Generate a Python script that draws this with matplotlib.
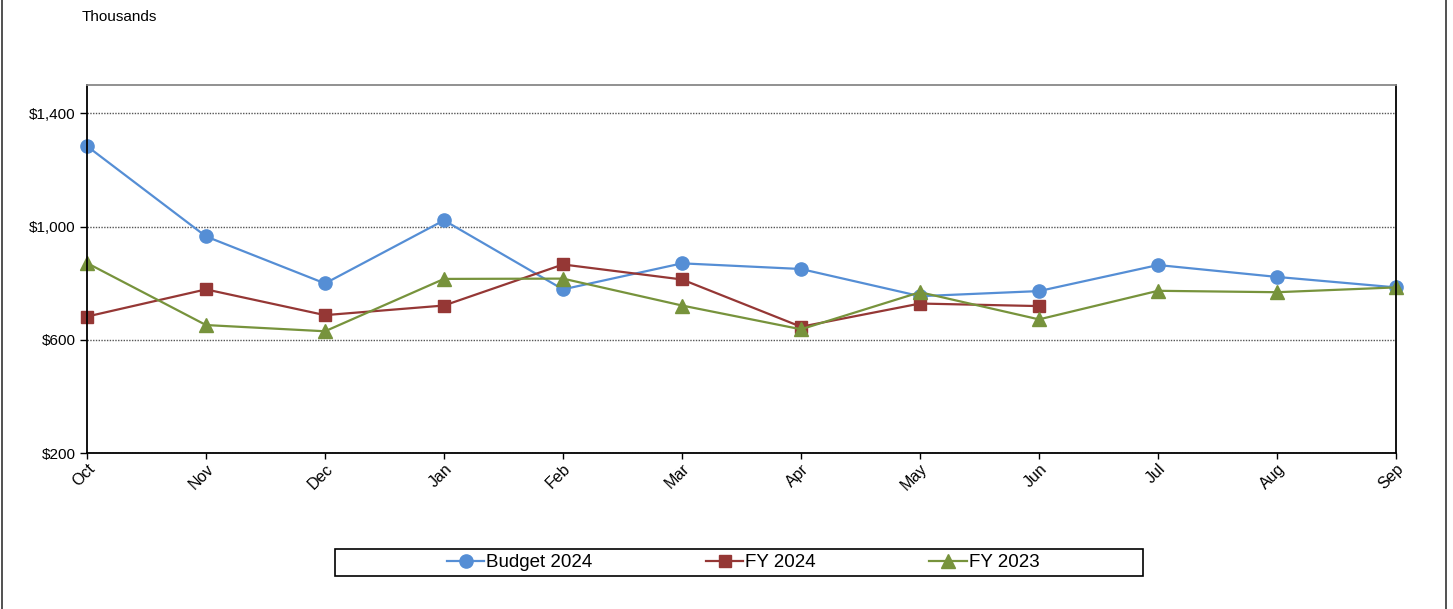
import matplotlib
matplotlib.use("Agg")
import matplotlib.pyplot as plt
from matplotlib.lines import Line2D
from matplotlib.patches import Rectangle
from matplotlib.ticker import FuncFormatter

plt.rcParams['font.family'] = ['Liberation Sans', 'DejaVu Sans']

months = ['Oct', 'Nov', 'Dec', 'Jan', 'Feb', 'Mar', 'Apr', 'May', 'Jun', 'Jul', 'Aug', 'Sep']
budget_2024 = [1284, 965, 799, 1022, 778, 870, 850, 754, 772, 864, 822, 785]
fy_2024 = [682, 778, 687, 721, 866, 813, 646, 728, 719]
fy_2023 = [871, 652, 630, 815, 816, 721, 637, 768, 672, 773, 768, 785]

W, H = 1453, 609
fig = plt.figure(figsize=(W / 100, H / 100), dpi=100)
ax = fig.add_axes([87 / W, 1 - 453 / H, (1396 - 87) / W, (453 - 85) / H])

x = list(range(len(months)))
ax.plot(x, budget_2024, color='#558ED5', lw=1.6, marker='o', ms=9.5, label='Budget 2024')
ax.plot(x[:len(fy_2024)], fy_2024, color='#953735', lw=1.6, marker='s', ms=9, label='FY 2024')
ax.plot(x, fy_2023, color='#77933C', lw=1.6, marker='^', ms=10, label='FY 2023')

ax.set_xlim(0, len(months) - 1)
ax.set_ylim(200, 1500)
ax.set_yticks([200, 600, 1000, 1400])
ax.yaxis.set_major_formatter(FuncFormatter(lambda v, p: '${:,.0f}'.format(v)))
ax.set_xticks(x)
ax.set_xticklabels(months, rotation=45, ha='right', va='top', rotation_mode='anchor')
ax.tick_params(axis='x', length=4, width=1, labelsize=11.5, pad=2)
ax.tick_params(axis='y', length=5, width=1, labelsize=11, pad=3)
ax.grid(axis='y', color='#555555', linestyle=(0, (1, 1)), lw=1)
ax.set_axisbelow(True)
for s in ['left', 'bottom', 'right']:
    ax.spines[s].set_color('black')
    ax.spines[s].set_linewidth(1.3)
ax.spines['top'].set_color('#888888')
ax.spines['top'].set_linewidth(1.3)
for ln in ax.get_lines():
    ln.set_clip_on(False)

fig.text(82 / W, 1 - 17 / H, 'Thousands', fontsize=11, va='center', ha='left')

# legend box
fig.patches.append(Rectangle((335 / W, 1 - 576 / H), (1143 - 335) / W, (576 - 549) / H,
                             transform=fig.transFigure, fill=False, ec='black', lw=1.2))
fig.legend(loc='center', bbox_to_anchor=(743 / W, 1 - 562.5 / H), ncol=3, frameon=False,
           fontsize=13.5, handlelength=2.0, handletextpad=0.1, columnspacing=6.05,
           borderaxespad=0, borderpad=0)

# outer frame sides
fig.add_artist(Line2D([1.5 / W, 1.5 / W], [0, 1], transform=fig.transFigure, color='#333333', lw=1.2))
fig.add_artist(Line2D([1446 / W, 1446 / W], [0, 1], transform=fig.transFigure, color='#333333', lw=1.2))

fig.savefig('out.png', dpi=100)
